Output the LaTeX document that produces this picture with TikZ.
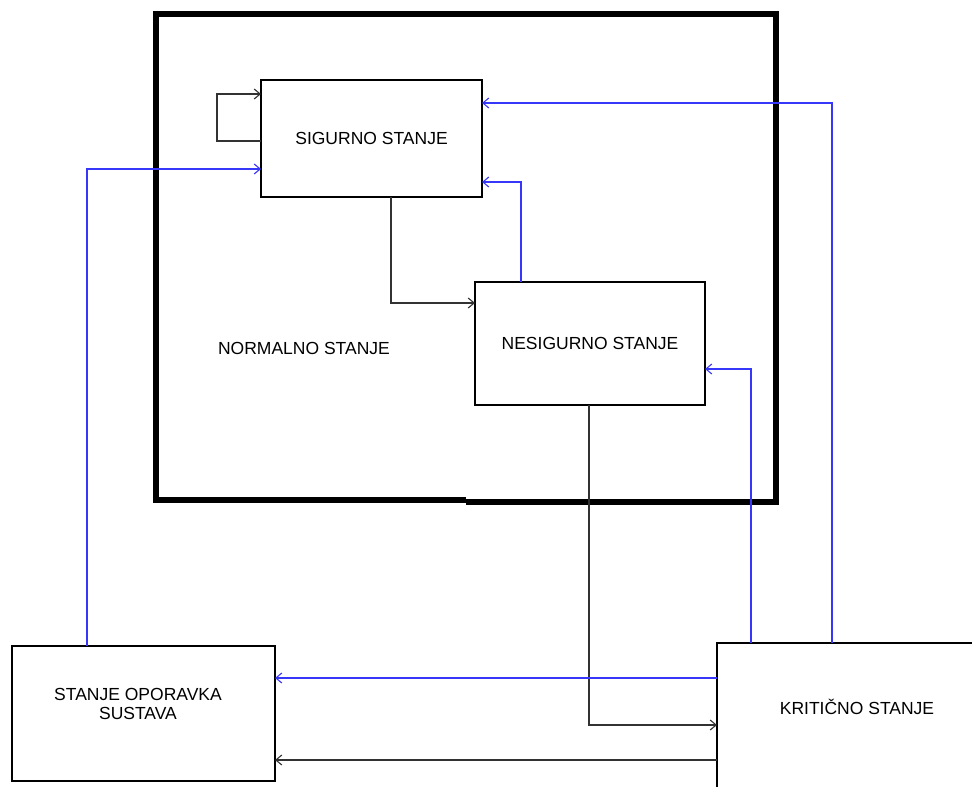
\documentclass[tikz,border=0pt]{standalone}
\usepackage{fontspec}
\setmainfont{Liberation Sans}
\usetikzlibrary{arrows.meta,calc}
\definecolor{lnb}{RGB}{55,55,250}
\definecolor{lnk}{RGB}{50,50,50}
\tikzset{
  stbox/.style={rectangle,draw=black,line width=2.5pt,fill=white,outer sep=0pt,
    inner sep=0pt,align=center,font=\fontsize{17.5}{18.5}\selectfont},
  lbl/.style={inner sep=0pt,align=center,font=\fontsize{17.5}{18.5}\selectfont},
  arrk/.style={-{Straight Barb[length=6pt,width=10pt]},line width=1.1pt,color=lnk},
  arrb/.style={-{Straight Barb[length=6pt,width=10pt]},line width=1.1pt,color=lnb},
}
\begin{document}
\begin{tikzpicture}[x=1pt,y=-1pt]
\useasboundingbox (0,0) rectangle (972,787);

    % -- normal operation frame ----------------------------------------
    \draw[line width=6pt] (466,500) -- (156,500) -- (156,14) -- (776,14) -- (776,502) -- (466,502);
    \node[lbl] (lnor) at (304,348) {NORMALNO STANJE};

    % -- states ---------------------------------------------------------
    \node[stbox,minimum width=221,minimum height=117] (sig) at (371.5,138.5) {SIGURNO STANJE};
    \node[stbox,minimum width=230,minimum height=123] (nes) at (590,343.5) {NESIGURNO STANJE};
    \node[stbox,minimum width=263,minimum height=135] (opo) at (143.5,713.5) {};
    \node[lbl] (lopo) at (138,704) {STANJE OPORAVKA\\SUSTAVA};
    \node[stbox,minimum width=290,minimum height=170,anchor=north west] (krit) at (717,643) {};
    \node[lbl] (lkrit) at (857,707) {KRITIČNO STANJE};

    % -- transitions ----------------------------------------------------
    \draw[arrk] ($(sig.north west)+(0,61)$) -| ($(sig.north west)+(-44,14)$) -- ($(sig.north west)+(0,14)$);
    \draw[arrk] ($(sig.south west)+(130,0)$) |- ($(nes.north west)+(0,21)$);
    \draw[arrb] ($(nes.north west)+(46,0)$) |- ($(sig.north east)+(0,102)$);
    \draw[arrb] ($(krit.north west)+(115,0)$) |- ($(sig.north east)+(0,23)$);
    \draw[arrb] ($(krit.north west)+(34,0)$) |- ($(nes.north east)+(0,87)$);
    \draw[arrk] ($(nes.south west)+(114,0)$) |- ($(krit.north west)+(0,82)$);
    \draw[arrb] ($(krit.north west)+(0,35)$) -- ($(opo.north east)+(0,32)$);
    \draw[arrk] ($(krit.north west)+(0,117)$) -- ($(opo.north east)+(0,114)$);
    \draw[arrb] ($(opo.north west)+(75,0)$) |- ($(sig.north west)+(0,89)$);

\end{tikzpicture}
\end{document}
